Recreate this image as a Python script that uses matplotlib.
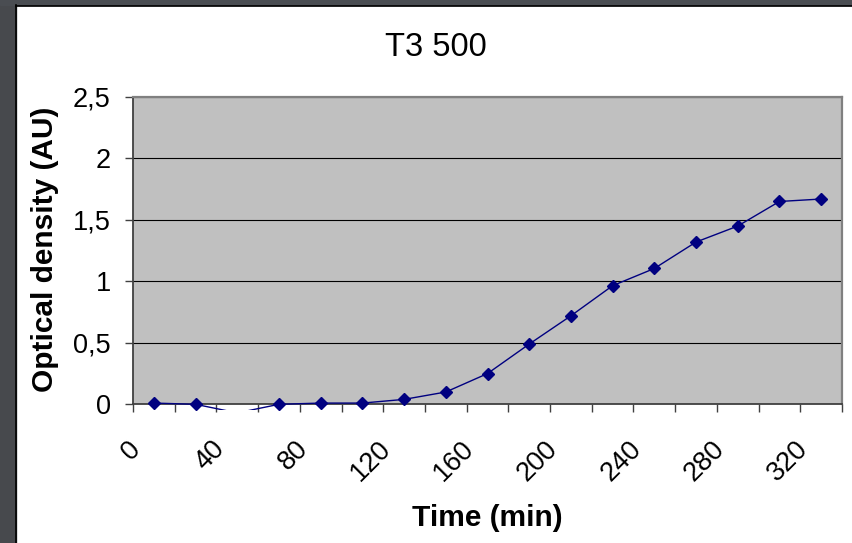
import numpy as np
import matplotlib.pyplot as plt
from matplotlib.patches import Rectangle
from matplotlib.transforms import ScaledTranslation, blended_transform_factory

plt.rcParams['font.family'] = ['Liberation Sans', 'DejaVu Sans']

# time points (min) and optical density
time_min = [0, 20, 40, 60, 80, 100, 120, 140, 160, 180, 200, 220, 240, 260, 280, 300, 320]
od = [0.01, 0.00, -0.07, 0.00, 0.01, 0.01, 0.04, 0.10, 0.25, 0.49, 0.72, 0.965, 1.105, 1.32, 1.45, 1.65, 1.67]
y_ticks = [0, 0.5, 1, 1.5, 2, 2.5]
y_labels = ["0", "0,5", "1", "1,5", "2", "2,5"]

W, H = 852, 543
fig = plt.figure(figsize=(W / 100, H / 100), dpi=100)
fig.patch.set_facecolor('white')

# dark screenshot edges on the left and top
fig.patches.append(Rectangle((0, 0), 16 / W, 1, transform=fig.transFigure, color='#47494d', zorder=0))
fig.patches.append(Rectangle((0, 1 - 5 / H), 1, 5 / H, transform=fig.transFigure, color='#4a4d52', zorder=0))
fig.add_artist(plt.Line2D([16 / W, 16 / W], [0, 1 - 5 / H], transform=fig.transFigure, color='black', lw=1.2))
fig.add_artist(plt.Line2D([16 / W, 1], [1 - 5.5 / H, 1 - 5.5 / H], transform=fig.transFigure, color='black', lw=1.2))

ax = fig.add_axes([133 / W, 1 - 404.3 / H, (842 - 133) / W, (404.3 - 97) / H])
ax.set_facecolor('#c0c0c0')

x = np.arange(len(time_min))
vals = np.array(od)
line, = ax.plot(x, vals, color='#000080', lw=1.0, zorder=3)
# Excel lets the line run a few pixels past the plot area before clipping
clip = Rectangle((0, -6 / 307), 1, 1 + 6 / 307, transform=ax.transAxes, fill=False, visible=False)
ax.add_patch(clip)
line.set_clip_path(clip)
keep = vals >= 0
ax.plot(x[keep], vals[keep], ls='none', marker='D', ms=6.5, color='#000080', clip_on=False, zorder=4)

ax.set_xlim(-0.5, len(time_min) - 0.5)
ax.set_ylim(0, 2.5)

ax.set_yticks(y_ticks)
ax.set_yticklabels(y_labels, fontsize=19.5)
ax.yaxis.grid(True, color='black', lw=0.8)
ax.set_axisbelow(True)
ax.tick_params(axis='y', length=6, width=1, color='#404040', pad=10)

# category axis: tick marks between categories, labels on every other category
ax.set_xticks(np.arange(-0.5, len(time_min), 1.0), minor=True)
ax.set_xticks(x[::2])
ax.set_xticklabels([str(t) for t in time_min[::2]], fontsize=19.5, rotation=45,
                   ha='right', va='center', rotation_mode='anchor')
ax.tick_params(axis='x', which='major', length=0, pad=29.5)
ax.tick_params(axis='x', which='minor', length=6, width=1, color='#404040')
shift = ScaledTranslation(-17 / 100, 0, fig.dpi_scale_trans)
for lab in ax.get_xticklabels():
    lab.set_transform(lab.get_transform() + shift)

for side in ['left', 'bottom']:
    ax.spines[side].set_color('#404040')
    ax.spines[side].set_linewidth(1.3)
for side in ['top', 'right']:
    ax.spines[side].set_color('#808080')
    ax.spines[side].set_linewidth(1.6)

fig.text(436 / W, 1 - 47 / H, "T3 500", fontsize=23.5, ha='center', va='center')
fig.text(487 / W, 1 - 518 / H, "Time (min)", fontsize=21.5, fontweight='bold', ha='center', va='center')
fig.text(45 / W, 1 - 249 / H, "Optical density (AU)", fontsize=21.5, fontweight='bold',
         ha='center', va='center', rotation=90)

fig.savefig('out.png', dpi=100)
